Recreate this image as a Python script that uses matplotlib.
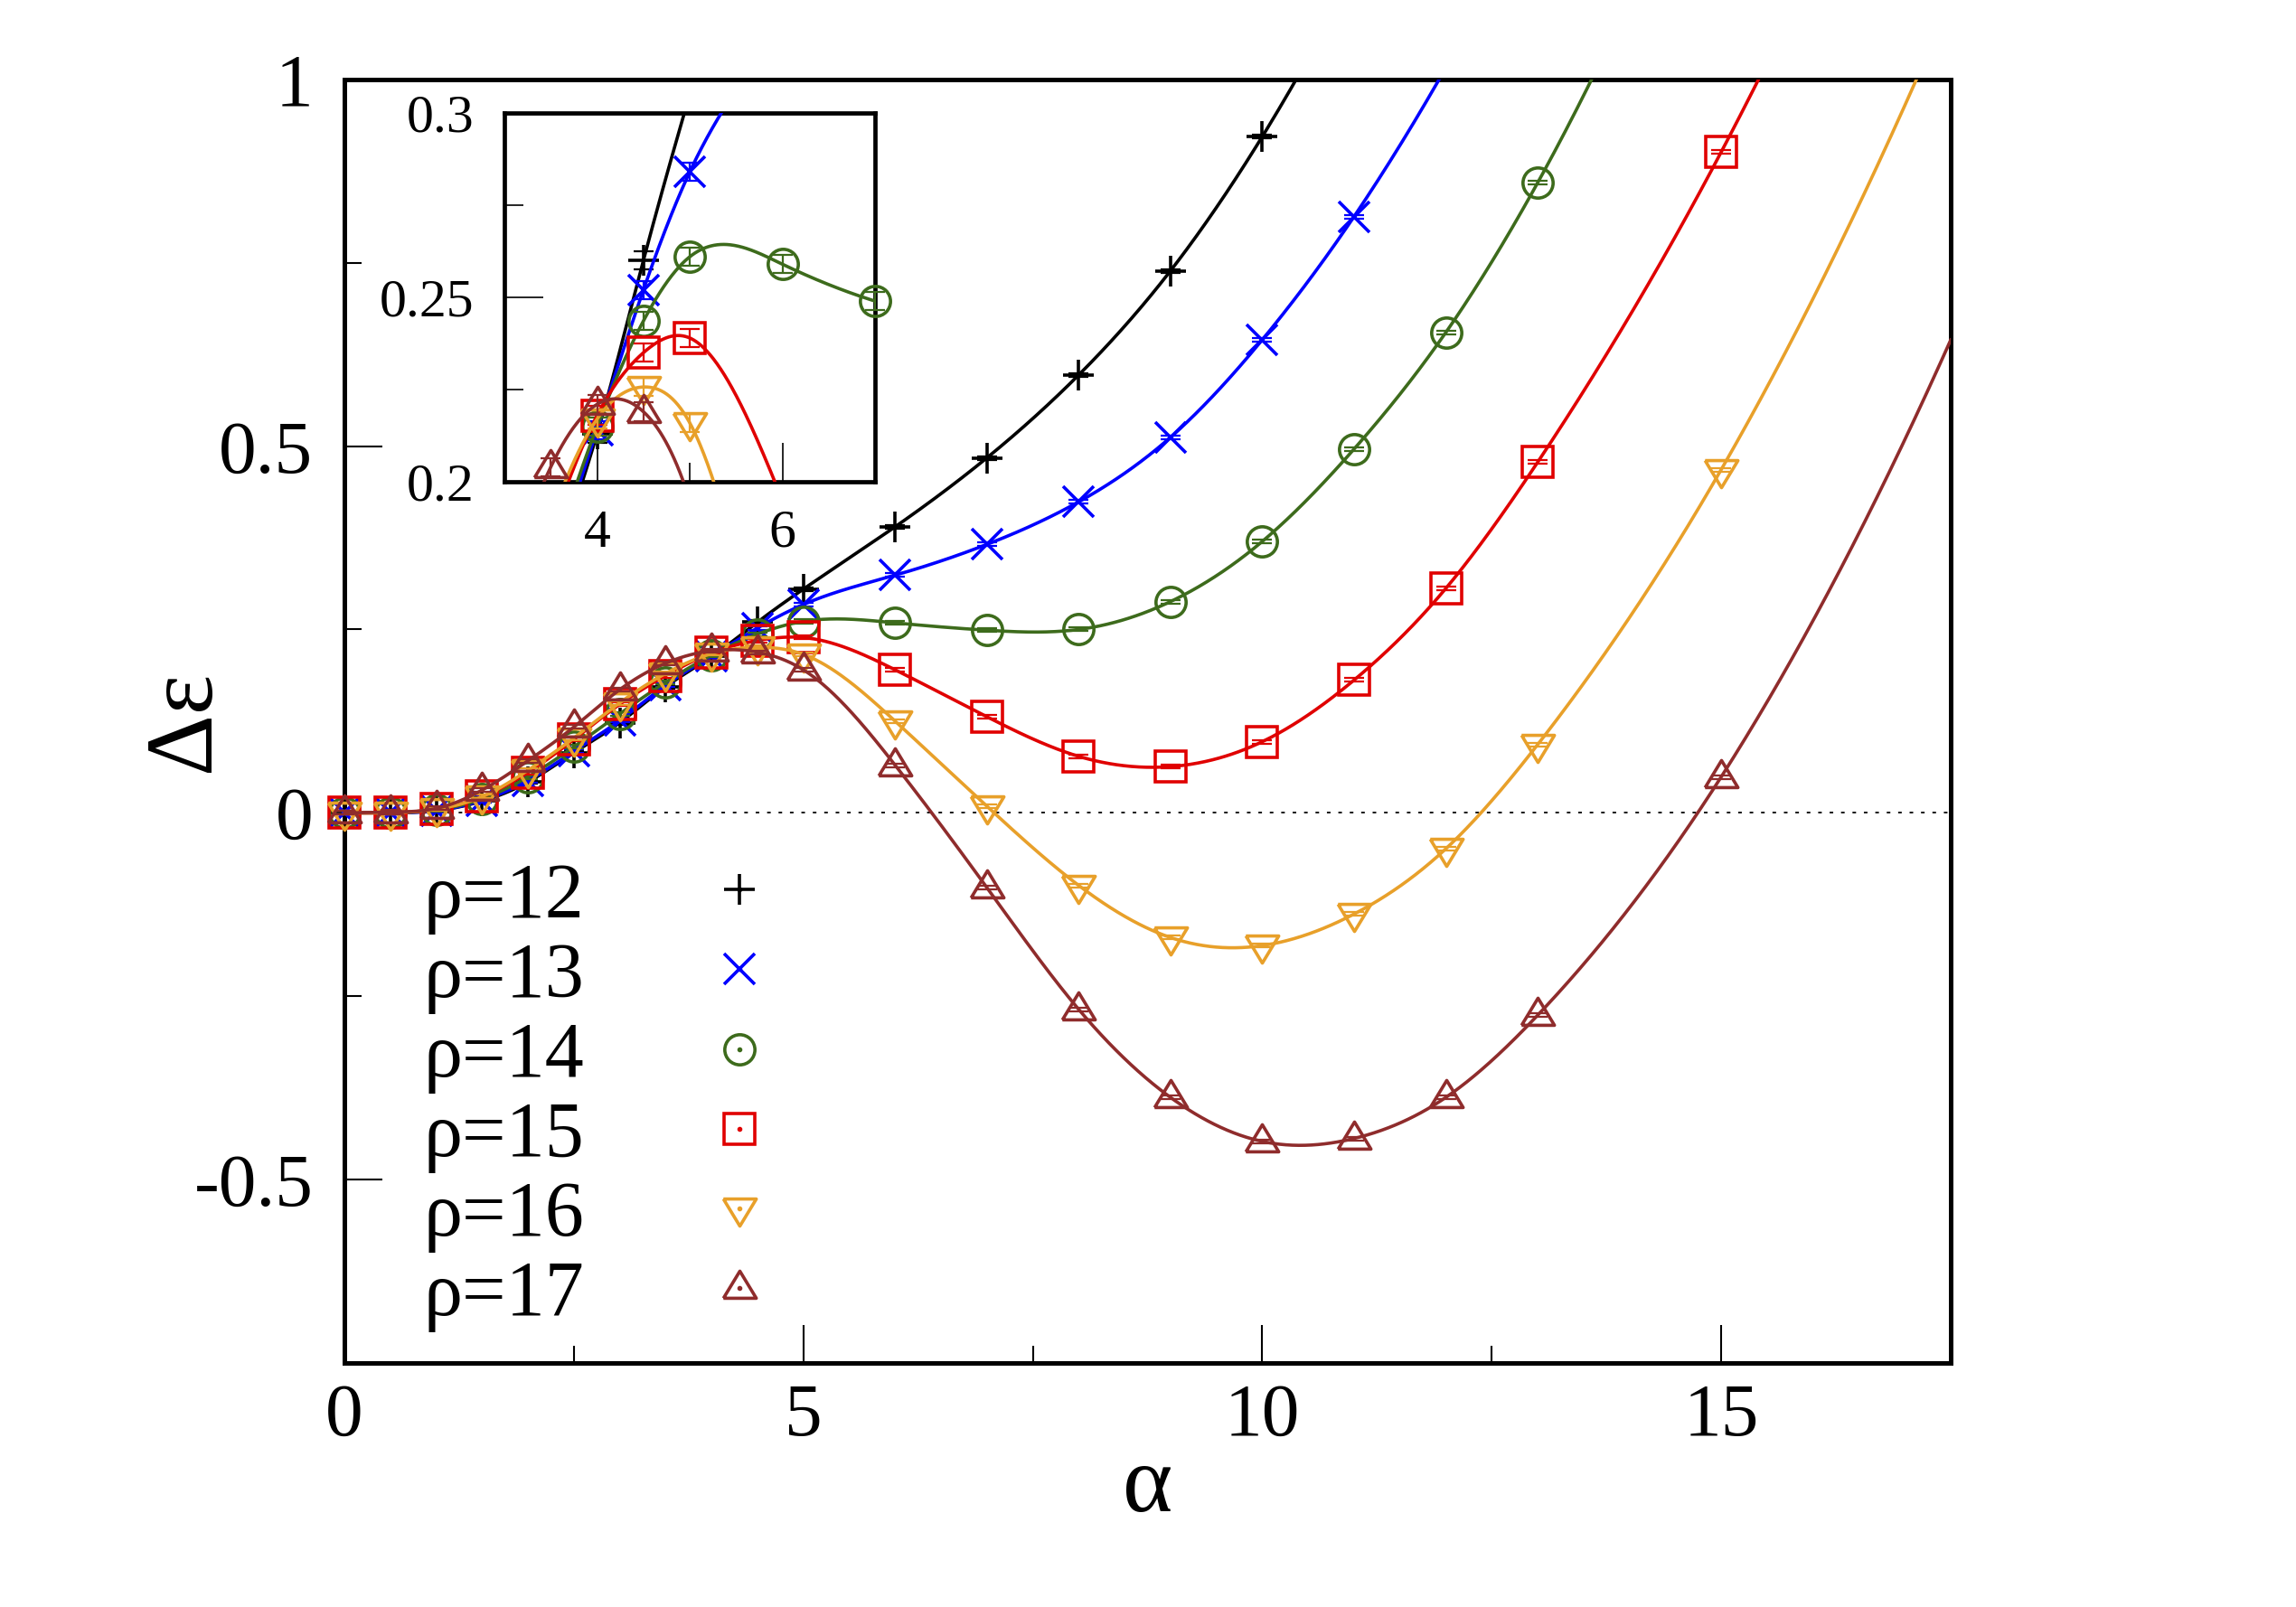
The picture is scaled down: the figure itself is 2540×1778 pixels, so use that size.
import numpy as np
import matplotlib
matplotlib.use('Agg')
import matplotlib.pyplot as plt
from matplotlib.lines import Line2D
from matplotlib.legend_handler import HandlerTuple

plt.rcParams['font.family'] = ['Liberation Serif', 'DejaVu Serif']
plt.rcParams['axes.unicode_minus'] = False

# values
alpha_low = [0, 0.5, 1, 1.5, 2, 2.5, 3, 3.5, 4, 4.5, 5]

alpha_12 = alpha_low + [6, 7, 8, 9, 10]
de_12 = [0, 0, 0.003, 0.016, 0.042, 0.082, 0.123, 0.172, 0.213, 0.260, 0.305,
         0.390, 0.484, 0.597, 0.739, 0.922]

alpha_13 = alpha_low + [6, 7, 8, 9, 10, 11]
de_13 = [0, 0, 0.003, 0.017, 0.044, 0.084, 0.126, 0.174, 0.214, 0.252, 0.284,
         0.324, 0.366, 0.424, 0.512, 0.645, 0.813]

alpha_14 = alpha_low + [6, 7, 8, 9, 10, 11, 12, 13]
de_14 = [0, 0, 0.004, 0.019, 0.049, 0.090, 0.135, 0.178, 0.215, 0.2436, 0.261,
         0.259, 0.249, 0.250, 0.288, 0.370, 0.496, 0.655, 0.859]

alpha_15 = alpha_low + [6, 7, 8, 9, 10, 11, 12, 13, 15]
de_15 = [0, 0, 0.005, 0.022, 0.055, 0.100, 0.148, 0.187, 0.218, 0.235, 0.239,
         0.195, 0.131, 0.077, 0.063, 0.097, 0.181, 0.306, 0.478, 0.901]

alpha_16 = alpha_low + [6, 7, 8, 9, 10, 11, 12, 13, 15]
de_16 = [0, 0, 0.005, 0.022, 0.058, 0.102, 0.150, 0.190, 0.217, 0.2257, 0.216,
         0.125, 0.009, -0.099, -0.170, -0.181, -0.138, -0.049, 0.093, 0.468]

alpha_17 = alpha_low + [6, 7, 8, 9, 10, 11, 12, 13, 15]
de_17 = [0, 0.001, 0.006, 0.031, 0.071, 0.117, 0.168, 0.204, 0.221, 0.219, 0.195,
         0.065, -0.102, -0.268, -0.388, -0.448, -0.444, -0.388, -0.276, 0.049]

err = [0.0025, 0.0025, 0.0025, 0.0025, 0.0025, 0.0025]
labels = ['ρ=12', 'ρ=13', 'ρ=14', 'ρ=15', 'ρ=16', 'ρ=17']
colors = ['black', '#0000ff', '#3d6b1c', '#e00000', '#e8a02a', '#8f2c2c']

x_ticks = [0, 5, 10, 15]
x_minor = [2.5, 7.5, 12.5]
y_ticks = [-0.5, 0, 0.5, 1]
y_minor = [-0.25, 0.25, 0.75]
inset_x_ticks = [4, 6]
inset_y_ticks = [0.2, 0.25, 0.3]

series = [(alpha_12, de_12), (alpha_13, de_13), (alpha_14, de_14),
          (alpha_15, de_15), (alpha_16, de_16), (alpha_17, de_17)]

tri_up = [(-1, -0.6), (1, -0.6), (0, 1.05), (-1, -0.6)]
tri_dn = [(-1, 0.6), (1, 0.6), (0, -1.05), (-1, 0.6)]
markers = ['+', 'x', 'o', 's', tri_dn, tri_up]
msizes = [24, 24, 24, 24, 27.5, 27.5]


# smooth curve: clamped cubic spline through the points,
# continued past the last point with the quadratic through the last three
def smooth_curve(x, y, x_end):
    x = np.asarray(x, float)
    y = np.asarray(y, float)
    n = len(x)
    h = np.diff(x)
    q = np.polyfit(x[-3:], y[-3:], 2)
    s1 = np.polyval(np.polyder(q), x[-1])
    s0 = 0.0
    A = np.zeros((n, n))
    r = np.zeros(n)
    A[0, 0] = 2 * h[0]
    A[0, 1] = h[0]
    r[0] = 6 * ((y[1] - y[0]) / h[0] - s0)
    A[-1, -2] = h[-1]
    A[-1, -1] = 2 * h[-1]
    r[-1] = 6 * (s1 - (y[-1] - y[-2]) / h[-1])
    for i in range(1, n - 1):
        A[i, i - 1] = h[i - 1]
        A[i, i] = 2 * (h[i - 1] + h[i])
        A[i, i + 1] = h[i]
        r[i] = 6 * ((y[i + 1] - y[i]) / h[i] - (y[i] - y[i - 1]) / h[i - 1])
    M = np.linalg.solve(A, r)
    xs = np.linspace(x[0], x[-1], 1500)
    k = np.clip(np.searchsorted(x, xs) - 1, 0, n - 2)
    t0 = x[k + 1] - xs
    t1 = xs - x[k]
    ys = ((M[k] * t0**3 + M[k + 1] * t1**3) / (6 * h[k])
          + (y[k] / h[k] - M[k] * h[k] / 6) * t0
          + (y[k + 1] / h[k] - M[k + 1] * h[k] / 6) * t1)
    xt = np.linspace(x[-1], x_end, 300)
    yt = np.polyval(q, xt)
    return np.concatenate([xs, xt]), np.concatenate([ys, yt])


fig = plt.figure(figsize=(25.4, 17.78), dpi=100)
ax = fig.add_axes([0.15, 0.1519, 0.6996, 0.7987])

ax.axhline(0, color='black', lw=1.3, dashes=(2.2, 4.8), zorder=1)

for i, (x, y) in enumerate(series):
    c = colors[i]
    xc, yc = smooth_curve(x, y, 17.5)
    ax.plot(xc, yc, color=c, lw=2.6, zorder=2 + i)
    ax.errorbar(x, y, yerr=err[i], fmt='none', ecolor=c, elinewidth=1.6,
                capsize=8, capthick=1.6, zorder=2.5 + i, clip_on=False)
    ax.plot(x, y, ls='none', marker=markers[i], ms=msizes[i], mec=c, mfc='none',
            mew=2.6, zorder=2.6 + i, clip_on=False)

ax.set_xlim(0, 17.5)
ax.set_ylim(-0.75, 1)
ax.set_xticks(x_ticks)
ax.set_xticklabels([str(v) for v in x_ticks])
ax.set_xticks(x_minor, minor=True)
ax.set_yticks(y_ticks)
ax.set_yticklabels(['-0.5', '0', '0.5', '1'])
ax.set_yticks(y_minor, minor=True)
ax.tick_params(which='both', direction='in', top=False, right=False)
ax.tick_params(which='major', length=30, width=1.5)
ax.tick_params(which='minor', length=14, width=1.5)
ax.tick_params(axis='y', labelsize=60, pad=25)
ax.tick_params(axis='x', labelsize=60, pad=16)
for sp in ax.spines.values():
    sp.set_linewidth(3.6)

ax.set_xlabel('α', fontsize=76, va='center')
ax.xaxis.set_label_coords(0.5, -0.098)
ax.set_ylabel('Δε', fontsize=76, va='center', ha='center')
ax.yaxis.set_label_coords(-0.0985, 0.5)

handles = []
for i in range(6):
    h1 = Line2D([], [], ls='none', marker=markers[i], ms=msizes[i], mec=colors[i],
                mfc='none', mew=2.6)
    h2 = Line2D([], [], ls='none', marker='o', ms=3, color=colors[i])
    handles.append((h1, h2))
ax.legend(handles, labels, handler_map={tuple: HandlerTuple(ndivide=1, pad=0)},
          loc='upper left', bbox_to_anchor=(468 / 2540, 1 - 954 / 1778),
          bbox_transform=fig.transFigure, frameon=False, fontsize=62,
          markerfirst=False, borderpad=0, borderaxespad=0, labelspacing=0.1,
          handlelength=2.0, handletextpad=1.0)

# inset
axi = fig.add_axes([0.2197, 0.7002, 0.1614, 0.2295])
for i, (x, y) in enumerate(series):
    c = colors[i]
    xc, yc = smooth_curve(x, y, 17.5)
    axi.plot(xc, yc, color=c, lw=2.6, zorder=2 + i)
    xa = np.asarray(x)
    ya = np.asarray(y)
    m = (xa >= 3) & (xa <= 7) & (ya >= 0.2) & (ya <= 0.3)
    axi.errorbar(xa[m], ya[m], yerr=err[i], fmt='none', ecolor=c, elinewidth=1.6,
                 capsize=8, capthick=1.6, zorder=2.5 + i, clip_on=False)
    axi.plot(xa[m], ya[m], ls='none', marker=markers[i], ms=msizes[i], mec=c,
             mfc='none', mew=2.6, zorder=2.6 + i, clip_on=False)
axi.set_xlim(3, 7)
axi.set_ylim(0.2, 0.3)
axi.set_xticks(inset_x_ticks)
axi.set_xticks([5], minor=True)
axi.set_yticks(inset_y_ticks)
axi.set_yticklabels(['0.2', '0.25', '0.3'])
axi.set_yticks([0.225, 0.275], minor=True)
axi.tick_params(which='both', direction='in', top=False, right=False)
axi.tick_params(which='major', length=31, width=1.2)
axi.tick_params(which='minor', length=15, width=1.2)
axi.tick_params(axis='y', labelsize=43, pad=24)
axi.tick_params(axis='x', labelsize=43, pad=22)
for sp in axi.spines.values():
    sp.set_linewidth(3.4)

fig.savefig('out.png', dpi=100)
